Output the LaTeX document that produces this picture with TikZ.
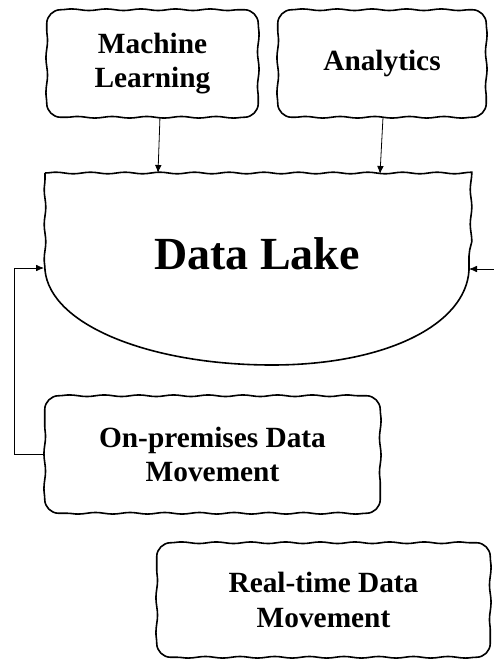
\documentclass[tikz,border=0pt]{standalone}
\usepackage{fontspec}
\setmainfont{Liberation Serif}
\usepackage{tikz}
\usetikzlibrary{arrows.meta, decorations.pathmorphing}

\begin{document}
\begin{tikzpicture}[x=0.75pt, y=-0.75pt,
    wavy/.style={line width=1.2pt, decoration={snake, amplitude=0.6pt, segment length=26pt}},
    box/.style={align=center, inner sep=0pt, font=\fontsize{22}{26}\selectfont\bfseries},
    arr/.style={line width=0.6pt, -{Latex[length=6pt, width=5pt]}}]
    \useasboundingbox (0, 0) rectangle (493, 660);
    \node[box, minimum width=158.25pt, minimum height=80.25pt] (ml) at (152.5, 63.5) {Machine\\Learning};
    \node[box, minimum width=156pt, minimum height=80.25pt] (analytics) at (382, 63.5) {Analytics};
    \node[box, minimum width=251.25pt, minimum height=87.75pt] (onprem) at (212.5, 454.5) {On-premises Data\\Movement};
    \node[box, minimum width=249.75pt, minimum height=85.5pt] (realtime) at (323.5, 600) {Real-time Data\\Movement};
    \foreach \n in {ml, analytics, onprem, realtime}
        \draw[wavy] ([xshift=10.5pt]\n.north west) decorate {-- ([xshift=-10.5pt]\n.north east)}
            arc[start angle=-90, end angle=0, radius=14] decorate {-- ([yshift=10.5pt]\n.south east)}
            arc[start angle=0, end angle=90, radius=14] decorate {-- ([xshift=10.5pt]\n.south west)}
            arc[start angle=90, end angle=180, radius=14] decorate {-- ([yshift=-10.5pt]\n.north west)}
            arc[start angle=180, end angle=270, radius=14] -- cycle;
    \draw[wavy, fill=white] (45, 173) decorate {-- (469, 173) -- (469, 270)}
        .. controls (466, 325) and (385, 365) .. (272, 365)
        .. controls (150, 365) and (50, 325) .. (45, 270) decorate {-- (45, 173)} -- cycle;
    \node[anchor=base, font=\fontsize{34.5}{40}\selectfont\bfseries] (lake) at (257, 269) {Data Lake};
    \coordinate (lakeML) at (158, 173);
    \coordinate (lakeAN) at (380, 174);
    \coordinate (lakeW) at (44, 268);
    \coordinate (lakeE) at (469, 269);
    \coordinate (feedE) at (495, 269);
    \draw[arr] ([xshift=5.6pt]ml.south) -- (lakeML);
    \draw[arr] ([xshift=0.75pt]analytics.south) -- (lakeAN);
    \draw[arr] (onprem.west) -- ++(-30, 0) |- (lakeW);
    \draw[arr] (feedE) -- (lakeE);
\end{tikzpicture}
\end{document}
